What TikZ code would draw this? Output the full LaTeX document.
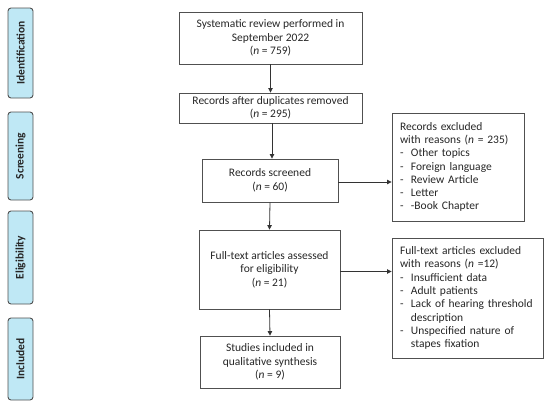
\documentclass[tikz,border=0pt]{standalone}
\usepackage{fontspec}
\setmainfont{Carlito}
\usetikzlibrary{arrows.meta}
\definecolor{sidefill}{HTML}{BFE8F5}
\definecolor{edge}{HTML}{505050}
\tikzset{
  mainbox/.style={draw=edge, line width=0.9pt, align=center, font=\fontsize{11.5}{13.4}\selectfont, inner sep=2pt, text=black!85},
  sidebox/.style={draw=edge, line width=0.9pt, fill=sidefill, rounded corners=3pt, rotate=90, minimum height=25pt, font=\bfseries\fontsize{11.5}{12}\selectfont, text=black!85},
  exclbox/.style={draw=edge, line width=0.9pt, align=left, font=\fontsize{11.5}{13.3}\selectfont, inner xsep=8pt, text=black!85},
  conn/.style={draw=black!80, line width=0.8pt, -{Triangle[length=4.5pt,width=4.5pt]}}
}
\newcommand{\dashitem}{\makebox[0.95em][l]{-}}
\newcommand{\hangitem}{\hspace*{0.95em}}
\begin{document}
\begin{tikzpicture}[x=1pt,y=-1pt]
\useasboundingbox (0,0) rectangle (550,408);
% side labels
\node[sidebox, minimum width=90pt] (sid) at (20.5,53) {Identification};
\node[sidebox, minimum width=88pt] (ssc) at (20.5,156) {Screening};
\node[sidebox, minimum width=93pt] (sel) at (20.5,257.5) {Eligibility};
\node[sidebox, minimum width=82pt] (sin) at (20.5,359) {Included};
% main boxes
\node[mainbox, minimum width=183pt, minimum height=52pt] (b1) at (270.5,38) {Systematic review performed in\\September 2022\\(\textit{n} = 759)};
\node[mainbox, minimum width=183pt, minimum height=30pt] (b2) at (270.5,108) {Records after duplicates removed\\(\textit{n} = 295)};
\node[mainbox, minimum width=136pt, minimum height=43pt] (b3) at (270,180.5) {Records screened\\(\textit{n} = 60)};
\node[mainbox, minimum width=141pt, minimum height=79pt] (b4) at (269.5,269.5) {Full-text articles assessed\\for eligibility\\(\textit{n} = 21)};
\node[mainbox, minimum width=140pt, minimum height=52pt] (b5) at (270,362) {Studies included in\\qualitative synthesis\\(\textit{n} = 9)};
% exclusion boxes
\node[exclbox, minimum width=132pt, minimum height=108pt, text width=116pt] (r1) at (458,167) {Records excluded\\with reasons (\textit{n} = 235)\\\dashitem Other topics\\\dashitem Foreign language\\\dashitem Review Article\\\dashitem Letter\\\dashitem -Book Chapter};
\node[exclbox, minimum width=151pt, minimum height=120pt, text width=135pt] (r2) at (467.5,298) {Full-text articles excluded\\with reasons (\textit{n} =12)\\\dashitem Insufficient data\\\dashitem Adult patients\\\dashitem Lack of hearing threshold\\\hangitem description\\\dashitem Unspecified nature of\\\hangitem stapes fixation};
% connectors
\draw[conn] (b1.south) -- (b2.north);
\draw[conn] ([xshift=1.5pt]b2.south) -- ([xshift=2pt]b3.north);
\draw[conn] (b3.south) -- (b4.north);
\draw[conn] (b4.south) -- (b5.north);
\draw[conn] ([yshift=-1.5pt]b3.east) -- ([yshift=-1.5pt]b3.east -| r1.west);
\draw[conn] ([yshift=-2pt]b4.east) -- ([yshift=-2pt]b4.east -| r2.west);
\end{tikzpicture}
\end{document}
